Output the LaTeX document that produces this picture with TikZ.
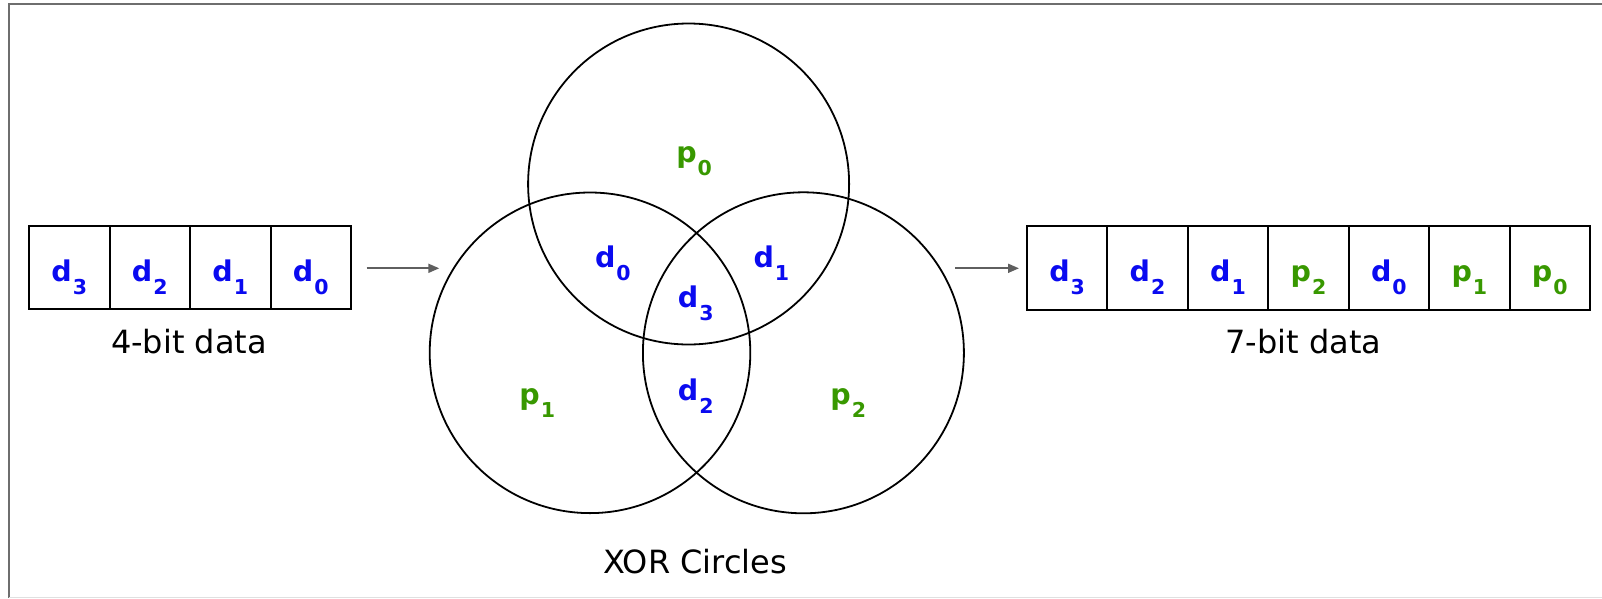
\documentclass[tikz,border=0pt]{standalone}
\usepackage{fontspec}
\setmainfont{DejaVu Sans}
\usetikzlibrary{arrows.meta,calc}
\definecolor{dblue}{RGB}{10,10,240}
\definecolor{pgreen}{RGB}{56,152,0}
\definecolor{arrgray}{RGB}{95,95,95}
\definecolor{framegray}{RGB}{110,110,110}
\newcommand\lbl[2]{\textbf{#1}\kern1pt\raisebox{-13pt}{\fontsize{20.5}{21}\selectfont\bfseries #2}}
\tikzset{
  cell/.style={draw, line width=2pt, minimum width=80.5pt, minimum height=83.3pt, inner sep=0pt, anchor=center},
  cellb/.style={draw, line width=2pt, minimum width=80.44pt, minimum height=84pt, inner sep=0pt, anchor=center},
  bit/.style={anchor=base, inner sep=0pt, font=\fontsize{28.5}{34}\selectfont},
  dbit/.style={bit, text=dblue},
  pbit/.style={bit, text=pgreen},
  caption/.style={anchor=base, inner sep=0pt, font=\fontsize{32}{38}\selectfont},
  venn/.style={line width=1.8pt},
  flow/.style={draw=arrgray, line width=1.8pt, -{Triangle[length=11pt,width=9pt]}}
}
\begin{document}
\begin{tikzpicture}[x=1pt,y=-1pt]
\useasboundingbox (0,0) rectangle (1602,598);
% frame
\draw[framegray, line width=2.2pt] (9,598) -- (9,4) -- (1602,4);
\draw[black!12, line width=1pt] (9,597) -- (1602,597);

% 4-bit data
\foreach \i/\n in {0/a3,1/a2,2/a1,3/a0}{
  \node[cell] (\n) at ({29+80.5*(\i+0.5)},267.7) {};
}
\node[dbit] at ($(a3.center)+(0,14)$) {\lbl{d}{3}};
\node[dbit] at ($(a2.center)+(0,14)$) {\lbl{d}{2}};
\node[dbit] at ($(a1.center)+(0,14)$) {\lbl{d}{1}};
\node[dbit] at ($(a0.center)+(0,14)$) {\lbl{d}{0}};
\node[caption] (cap4) at (189,353.3) {4-bit data};

% Venn
\coordinate (ct) at (688.6,184);
\coordinate (cl) at (590,352.8);
\coordinate (cr) at (803.4,352.8);
\draw[venn] (ct) circle [radius=160.5pt];
\draw[venn] (cl) circle [radius=160.3pt];
\draw[venn] (cr) circle [radius=160.5pt];
\node[pbit] (vp0) at (694.1,162.1) {\lbl{p}{0}};
\node[dbit] (vd0) at (612.9,267) {\lbl{d}{0}};
\node[dbit] (vd1) at (771.4,267) {\lbl{d}{1}};
\node[dbit] (vd3) at (695.7,307) {\lbl{d}{3}};
\node[pbit] (vp1) at (537.3,404.3) {\lbl{p}{1}};
\node[dbit] (vd2) at (695.7,400.5) {\lbl{d}{2}};
\node[pbit] (vp2) at (848.2,404.3) {\lbl{p}{2}};
\node[caption] (capx) at (695,573.2) {XOR Circles};

% 7-bit data
\foreach \i/\n in {0/b6,1/b5,2/b4,3/b3,4/b2,5/b1,6/b0}{
  \node[cellb] (\n) at ({1026.9+80.44*(\i+0.5)},268) {};
}
\node[dbit] at ($(b6.center)+(0,13.7)$) {\lbl{d}{3}};
\node[dbit] at ($(b5.center)+(0,13.7)$) {\lbl{d}{2}};
\node[dbit] at ($(b4.center)+(0,13.7)$) {\lbl{d}{1}};
\node[pbit] at ($(b3.center)+(0,13.7)$) {\lbl{p}{2}};
\node[dbit] at ($(b2.center)+(0,13.7)$) {\lbl{d}{0}};
\node[pbit] at ($(b1.center)+(0,13.7)$) {\lbl{p}{1}};
\node[pbit] at ($(b0.center)+(0,13.7)$) {\lbl{p}{0}};
\node[caption] (cap7) at (1303.3,353.3) {7-bit data};

% arrows
\coordinate (a1s) at (366.7,268.3);
\coordinate (a1e) at (439.3,268.3);
\coordinate (a2s) at (955,268.3);
\coordinate (a2e) at (1019,268.3);
\draw[flow] (a1s) -- (a1e);
\draw[flow] (a2s) -- (a2e);
\end{tikzpicture}
\end{document}
